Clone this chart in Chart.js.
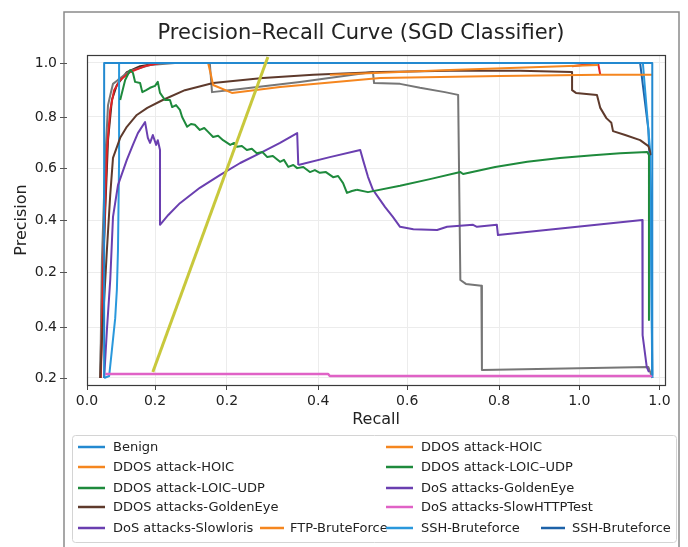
<!DOCTYPE html>
<html>
<head>
<meta charset="utf-8">
<title>Precision–Recall Curve (SGD Classifier)</title>
<script src="https://cdn.jsdelivr.net/npm/chart.js@4.4.1/dist/chart.umd.min.js"></script>
<style>
  html, body { margin: 0; padding: 0; background: #fff; }
  canvas { display: block; }
</style>
</head>
<body>
<canvas id="prChart" width="688" height="547"></canvas>
<script>
// tick positions and the labels printed on them
const xTickValues = [-0.025, 0.098, 0.228, 0.393, 0.554, 0.72, 0.865, 1.01];
const xTickLabels = ['0.0', '0.2', '0.2', '0.4', '0.6', '0.8', '1.0', '1.0'];
const yTickValues = [0.2, 0.3295, 0.469, 0.601, 0.733, 0.863, 1.0];
const yTickLabels = ['0.2', '0.4', '0.2', '0.4', '0.6', '0.8', '1.0'];

// [recall, precision] pairs for each class
const benign = [[0.006, 0.20], [0.006, 1.0], [0.997, 1.0], [0.997, 0.208]];
const hoicA = [[0.194, 1.0], [0.199, 0.970], [0.203, 0.944], [0.237, 0.924], [0.324, 0.939],
  [0.505, 0.962], [0.722, 0.967], [0.903, 0.970]];
const hoicB = [[0.414, 0.970], [0.631, 0.982], [0.794, 0.990], [0.899, 0.995]];
const loicA = [[0.035, 0.906], [0.044, 0.957], [0.053, 0.982], [0.058, 0.975], [0.062, 0.952],
  [0.071, 0.949], [0.075, 0.926], [0.082, 0.931], [0.089, 0.937], [0.098, 0.942], [0.103, 0.952],
  [0.107, 0.924], [0.116, 0.906], [0.125, 0.906], [0.129, 0.888], [0.136, 0.893], [0.143, 0.881],
  [0.147, 0.863], [0.156, 0.838], [0.163, 0.845], [0.170, 0.843], [0.179, 0.830], [0.187, 0.835],
  [0.194, 0.825], [0.203, 0.812], [0.212, 0.815], [0.221, 0.804], [0.234, 0.792], [0.241, 0.797],
  [0.246, 0.787], [0.255, 0.789], [0.264, 0.779], [0.273, 0.782], [0.282, 0.771], [0.292, 0.774],
  [0.301, 0.761], [0.311, 0.764], [0.324, 0.749], [0.331, 0.754], [0.339, 0.736], [0.348, 0.741],
  [0.355, 0.733], [0.366, 0.736], [0.378, 0.723], [0.387, 0.728], [0.396, 0.721], [0.407, 0.723],
  [0.420, 0.710], [0.429, 0.713], [0.438, 0.695], [0.445, 0.670], [0.454, 0.675], [0.463, 0.678]];
const loicB = [[0.463, 0.678], [0.483, 0.672], [0.541, 0.688], [0.595, 0.705], [0.650, 0.723],
  [0.655, 0.718], [0.713, 0.736], [0.771, 0.749], [0.830, 0.759], [0.890, 0.766], [0.939, 0.771],
  [0.988, 0.774], [0.991, 0.766], [0.991, 0.347]];
const dosGoldenEye = [[0.357, 0.741], [0.414, 0.761], [0.469, 0.779], [0.474, 0.754], [0.483, 0.711],
  [0.492, 0.678], [0.501, 0.660], [0.514, 0.634], [0.528, 0.609], [0.541, 0.584], [0.565, 0.578],
  [0.608, 0.576], [0.626, 0.584], [0.673, 0.589], [0.680, 0.584], [0.716, 0.589], [0.718, 0.563],
  [0.979, 0.601], [0.979, 0.309], [0.980, 0.309], [0.987, 0.228], [0.991, 0.215]];
const ddosGoldenEye = [[-0.001, 0.20], [0.002, 0.297], [0.006, 0.398], [0.011, 0.525], [0.017, 0.665],
  [0.022, 0.759], [0.035, 0.810], [0.047, 0.838], [0.065, 0.868], [0.084, 0.886], [0.112, 0.906],
  [0.152, 0.931], [0.203, 0.949], [0.293, 0.962], [0.384, 0.970], [0.505, 0.977], [0.631, 0.980],
  [0.758, 0.980], [0.852, 0.977], [0.852, 0.931], [0.859, 0.924], [0.897, 0.919], [0.903, 0.886],
  [0.914, 0.860], [0.923, 0.848], [0.926, 0.827], [0.948, 0.817], [0.975, 0.804], [0.990, 0.789],
  [0.995, 0.766]];
const slowHttp = [[0.008, 0.210], [0.411, 0.210], [0.414, 0.205], [0.997, 0.205]];
const slowloris = [[0.006, 0.20], [0.011, 0.322], [0.017, 0.449], [0.022, 0.609], [0.031, 0.690],
  [0.047, 0.754], [0.058, 0.792], [0.067, 0.822], [0.080, 0.850], [0.085, 0.810], [0.089, 0.797],
  [0.094, 0.817], [0.100, 0.792], [0.103, 0.804], [0.107, 0.779], [0.107, 0.589], [0.122, 0.614],
  [0.143, 0.644], [0.179, 0.683], [0.216, 0.716], [0.252, 0.746], [0.288, 0.771], [0.324, 0.797],
  [0.355, 0.822], [0.357, 0.741]];
const ftp = [[0.903, 0.970], [0.997, 0.970]];
const sshA = [[0.006, 0.20], [0.015, 0.205], [0.020, 0.271], [0.026, 0.352], [0.029, 0.424],
  [0.031, 0.525], [0.033, 0.754], [0.033, 1.0], [0.980, 1.0], [0.993, 0.779], [0.997, 0.20]];
const sshB = [[0.975, 1.0], [0.990, 0.83], [0.995, 0.65], [0.997, 0.20]];

// curves drawn without a legend entry
const redEarly = [[0.000, 0.20], [0.002, 0.322], [0.004, 0.474], [0.008, 0.652], [0.011, 0.779],
  [0.017, 0.881], [0.024, 0.931], [0.035, 0.957], [0.053, 0.977], [0.080, 0.992], [0.107, 1.0]];
const redLate = [[0.852, 0.992], [0.899, 1.0], [0.903, 0.970]];
const grayCurve = [[-0.001, 0.20], [0.002, 0.50], [0.008, 0.754], [0.013, 0.893], [0.018, 0.924],
  [0.022, 0.947], [0.031, 0.957], [0.053, 0.980], [0.089, 0.995], [0.134, 1.0], [0.197, 1.0],
  [0.201, 0.926], [0.252, 0.934], [0.360, 0.952], [0.492, 0.977], [0.494, 0.949], [0.541, 0.947],
  [0.577, 0.937], [0.622, 0.926], [0.646, 0.919], [0.650, 0.449], [0.660, 0.439], [0.688, 0.434],
  [0.689, 0.220], [0.990, 0.228], [0.997, 0.20]];
const oliveLine = [[0.094, 0.215], [0.302, 1.015]];
const brownTop = [[-0.001, 0.20], [0.002, 0.398], [0.008, 0.627], [0.013, 0.804], [0.020, 0.906],
  [0.029, 0.944], [0.047, 0.977], [0.071, 0.992], [0.107, 1.0], [0.179, 1.0]];

const BLUE = '#2389d0', ORANGE = '#f5861f', GREEN = '#1e8a3c', PURPLE = '#6a3fb0',
  BROWN = '#5e3a2c', PINK = '#e062c6', GRAY = '#767676', RED = '#e02226', OLIVE = '#c8c83c';

function series(label, data, color, extra) {
  return Object.assign({
    label, data, borderColor: color, backgroundColor: color,
    borderWidth: 2, pointRadius: 0, tension: 0, fill: false,
    borderJoinStyle: 'round', inLegend: true
  }, extra || {});
}

const datasets = [
  series('Benign', benign, BLUE),
  series('DDOS attack-HOIC', hoicA, ORANGE),
  series('DDOS attack-HOIC', hoicB, ORANGE),
  series('DDOS attack-LOIC–UDP', loicA, GREEN),
  series('DDOS attack-LOIC–UDP', loicB, GREEN),
  series('DoS attacks-GoldenEye', dosGoldenEye, PURPLE),
  series('DDOS attacks-GoldenEye', ddosGoldenEye, BROWN),
  series('DoS attacks-SlowHTTPTest', slowHttp, PINK, {borderWidth: 2.5}),
  series('DoS attacks-Slowloris', slowloris, PURPLE),
  series('FTP-BruteForce', ftp, ORANGE),
  series('SSH-Bruteforce', sshA, '#2a98dc'),
  series('SSH-Bruteforce', sshB, '#1d62a8'),
  series('red', redEarly, RED, {inLegend: false}),
  series('red', redLate, RED, {inLegend: false}),
  series('gray', grayCurve, GRAY, {inLegend: false}),
  series('olive', oliveLine, OLIVE, {inLegend: false, borderWidth: 3, order: -1}),
  series('brown', brownTop, '#4a2a20', {inLegend: false})
];

// legend slots: [line start, line end, text x, row y]
const legendSlots = [
  [78, 105, 113, 447], [386, 413, 421, 447],
  [78, 105, 113, 467], [386, 413, 421, 467],
  [78, 105, 113, 488], [386, 413, 421, 488],
  [78, 105, 113, 507], [386, 413, 421, 507],
  [78, 105, 113, 528], [260, 284, 290, 528], [386, 413, 421, 528], [541, 565, 572, 528]
];

const framePlugin = {
  id: 'frame',
  beforeDraw(chart) {
    const {ctx, width, height} = chart;
    ctx.save();
    ctx.fillStyle = '#ffffff';
    ctx.fillRect(0, 0, width, height);
    ctx.strokeStyle = '#8a8a8a';
    ctx.lineWidth = 1.5;
    ctx.beginPath();
    ctx.moveTo(64, height);
    ctx.lineTo(64, 12);
    ctx.lineTo(679, 12);
    ctx.lineTo(679, height);
    ctx.stroke();
    ctx.restore();
  },
  afterDatasetsDraw(chart) {
    const {ctx, chartArea: a} = chart;
    const y = chart.scales.y;
    ctx.save();
    ctx.strokeStyle = '#3a3a3a';
    ctx.lineWidth = 1.2;
    ctx.strokeRect(a.left + 0.5, a.top + 0.5, a.right - a.left, a.bottom - a.top);
    // short tick marks sitting on the outer frame
    ctx.strokeStyle = '#555';
    ctx.lineWidth = 1;
    y.ticks.forEach(t => {
      const py = Math.round(y.getPixelForValue(t.value)) + 0.5;
      ctx.beginPath();
      ctx.moveTo(60, py);
      ctx.lineTo(67, py);
      ctx.stroke();
    });
    ctx.restore();
  },
  afterDraw(chart) {
    const ctx = chart.ctx;
    ctx.save();
    ctx.fillStyle = '#222';
    ctx.font = '21px "DejaVu Sans", sans-serif';
    ctx.textAlign = 'center';
    ctx.textBaseline = 'middle';
    ctx.fillText('Precision–Recall Curve (SGD Classifier)', 361, 34);

    // legend box
    ctx.fillStyle = 'rgba(255,255,255,0.95)';
    ctx.strokeStyle = '#d4d4d4';
    ctx.lineWidth = 1;
    ctx.beginPath();
    ctx.roundRect(72.5, 435.5, 604, 107, 3);
    ctx.fill();
    ctx.stroke();

    ctx.font = '13px "DejaVu Sans", sans-serif';
    ctx.textAlign = 'left';
    const entries = chart.data.datasets.filter(d => d.inLegend);
    entries.forEach((d, i) => {
      const [l1, l2, tx, ty] = legendSlots[i];
      ctx.strokeStyle = d.borderColor;
      ctx.lineWidth = 2.5;
      ctx.beginPath();
      ctx.moveTo(l1, ty);
      ctx.lineTo(l2, ty);
      ctx.stroke();
      ctx.fillStyle = '#222';
      ctx.fillText(d.label, tx, ty + 1);
    });
    ctx.restore();
  }
};

Chart.defaults.font.family = '"DejaVu Sans", sans-serif';

new Chart(document.getElementById('prChart'), {
  type: 'line',
  data: { datasets },
  options: {
    responsive: false,
    animation: false,
    events: [],
    layout: { padding: { left: 0, top: 55, right: 23, bottom: 0 } },
    plugins: {
      legend: { display: false },
      title: { display: false },
      tooltip: { enabled: false }
    },
    scales: {
      x: {
        type: 'linear',
        min: -0.025,
        max: 1.02,
        afterBuildTicks: s => { s.ticks = xTickValues.map(v => ({ value: v })); },
        afterFit: s => { s.height = 162; },
        ticks: {
          callback: (v, i) => xTickLabels[i],
          font: { size: 14 }, color: '#222', padding: 3,
          maxRotation: 0, autoSkip: false
        },
        grid: { color: '#ececec', tickColor: '#444', tickLength: 5 },
        border: { display: false },
        title: {
          display: true, text: 'Recall', color: '#222',
          font: { size: 16 }, padding: { top: 4, bottom: 118 }
        }
      },
      y: {
        type: 'linear',
        min: 0.1822,
        max: 1.0203,
        afterBuildTicks: s => { s.ticks = yTickValues.map(v => ({ value: v })); },
        afterFit: s => { s.width = 87; },
        ticks: {
          callback: (v, i) => yTickLabels[i],
          font: { size: 14 }, color: '#222', padding: 30, autoSkip: false
        },
        grid: { color: '#ececec', drawTicks: false },
        border: { display: false },
        title: {
          display: true, text: 'Precision', color: '#222',
          font: { size: 16 }, padding: { top: 12, bottom: 4 }
        }
      }
    }
  },
  plugins: [framePlugin]
});
</script>
</body>
</html>
